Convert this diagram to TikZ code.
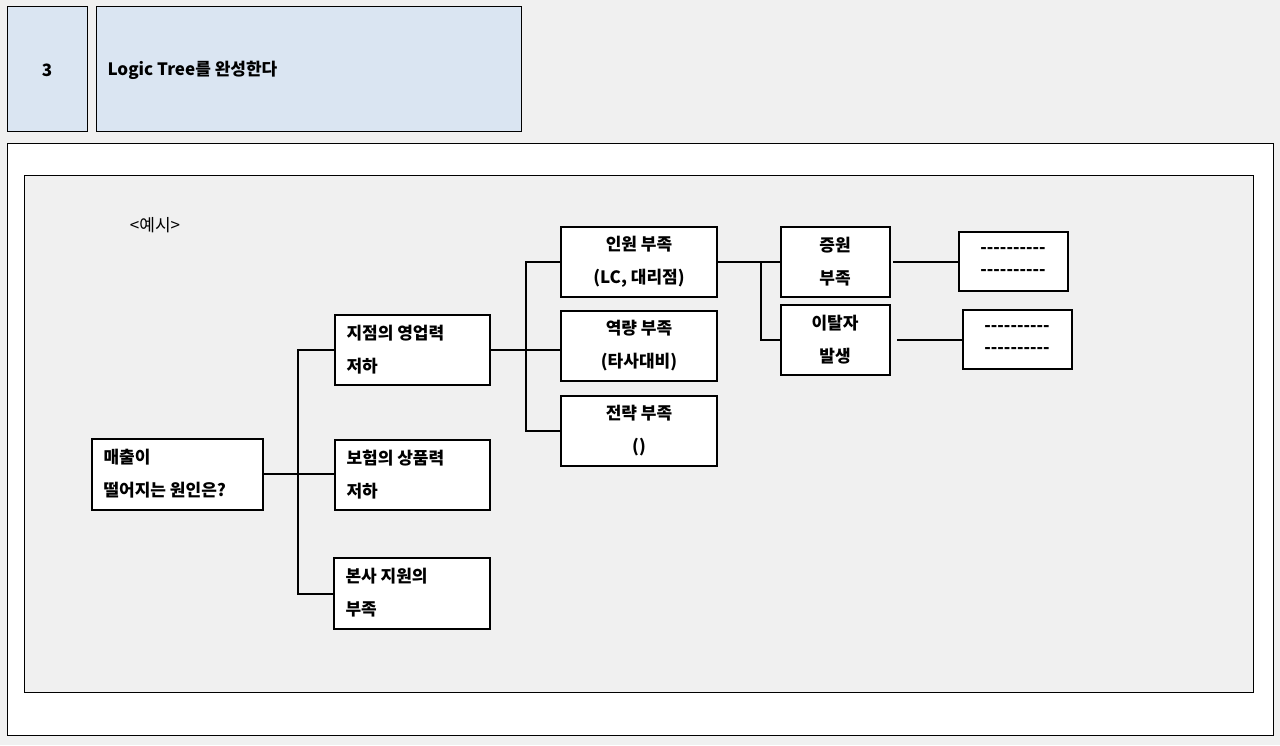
\documentclass[tikz,border=0pt]{standalone}
\usepackage{fontspec}
\newfontfamily\kr{Noto Sans CJK KR}
\definecolor{bg}{HTML}{F0F0F0}
\definecolor{hb}{HTML}{DAE5F2}
\begin{document}
\begin{tikzpicture}[x=1pt,y=-1pt,
  bx/.style={draw=black,line width=1.3pt,fill=white},
  tx/.style={font=\kr\bfseries\fontsize{17}{33}\selectfont,align=center},
  tl/.style={font=\kr\bfseries\fontsize{17}{33}\selectfont,align=left,anchor=west},
  ln/.style={line width=1.3pt}]
\useasboundingbox (0,0) rectangle (1280,745);
\fill[bg] (0,0) rectangle (1280,745);
\draw[line width=1pt,fill=hb] (7,6) rectangle (87,131);
\draw[line width=1pt,fill=hb] (96,6) rectangle (521,131);
\node[tx] (n3) at (47,70) {3};
\node[tl] (ttl) at (104,70) {Logic Tree를 완성한다};
\draw[line width=1pt,fill=white] (7,143) rectangle (1273,735);
\draw[line width=1pt,fill=bg] (24,175) rectangle (1253,692);
\node[font=\kr\fontsize{17}{20}\selectfont] (ex) at (155,225) {<예시>};
% boxes
\draw[bx] (92,439) rectangle (263,510); \node[tl] (root) at (100,474) {매출이\\떨어지는 원인은?};
\draw[bx] (335,315) rectangle (490,385); \node[tl] (a1) at (343,350) {지점의 영업력\\저하};
\draw[bx] (335,440) rectangle (490,510); \node[tl] (a2) at (343,475) {보험의 상품력\\저하};
\draw[bx] (334,558) rectangle (490,629); \node[tl] (a3) at (342,593) {본사 지원의\\부족};
\draw[bx] (561,227) rectangle (717,297); \node[tx] (b1) at (639,262) {인원 부족\\(LC, 대리점)};
\draw[bx] (561,311) rectangle (717,381); \node[tx] (b2) at (639,346) {역량 부족\\(타사대비)};
\draw[bx] (561,396) rectangle (717,466); \node[tx] (b3) at (639,431) {전략 부족\\()};
\draw[bx] (781,227) rectangle (890,297); \node[tx] (c1) at (835,262) {증원\\부족};
\draw[bx] (781,305) rectangle (890,375); \node[tx] (c2) at (835,340) {이탈자\\발생};
\draw[bx] (959,232) rectangle (1068,291); \node[tx,font=\kr\bfseries\fontsize{17}{22}\selectfont] (d1) at (1013,262) {----------\\----------};
\draw[bx] (963,310) rectangle (1072,369); \node[tx,font=\kr\bfseries\fontsize{17}{22}\selectfont] (d2) at (1017,340) {----------\\----------};
% connectors
\draw[ln] (263,474) -- (298,474);
\draw[ln] (335,350) -| (298,594) -- (334,594);
\draw[ln] (298,474) -- (335,474);
\draw[ln] (490,350) -- (561,350);
\draw[ln] (561,262) -| (526,431) -- (561,431);
\draw[ln] (717,262) -- (781,262);
\draw[ln] (761,262) |- (781,340);
\draw[ln] (893,262) -- (959,262);
\draw[ln] (897,340) -- (963,340);
\end{tikzpicture}
\end{document}
